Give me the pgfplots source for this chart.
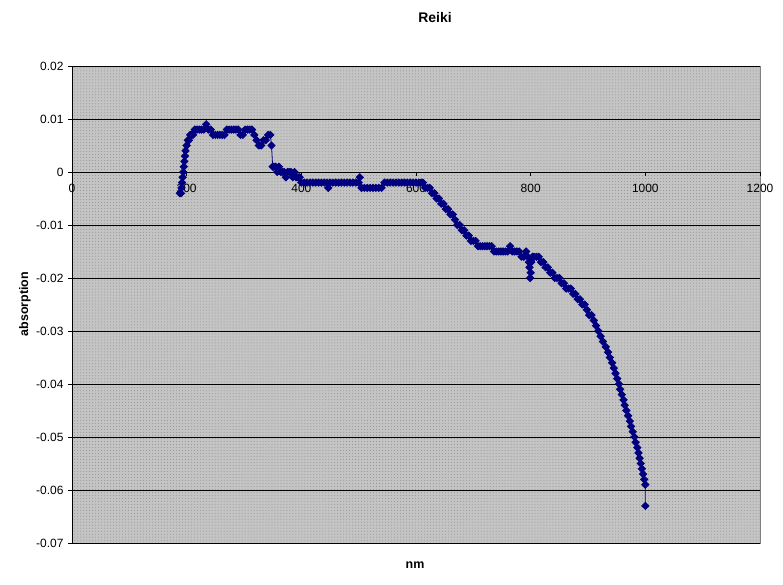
\documentclass[border=0pt]{standalone}
\usepackage{fontspec}
\setmainfont{Liberation Sans}
\usepackage{pgfplots}
\pgfplotsset{compat=1.18}
\usetikzlibrary{patterns}

\definecolor{plotbg}{RGB}{196,196,196}
\definecolor{plotdot}{RGB}{145,145,145}
\definecolor{frame}{RGB}{128,128,128}
\definecolor{series}{RGB}{0,0,128}

\begin{document}
\begin{tikzpicture}[x=1bp,y=1bp]
  % full picture frame 783 x 585
  \path (0,0) rectangle (783,585);
  \begin{axis}[
      at={(72bp,42bp)}, anchor=south west,
      scale only axis,
      width=688bp, height=477bp,
      xmin=0, xmax=1200, ymin=-0.07, ymax=0.02,
      axis x line=middle, axis y line=left,
      hide obscured x ticks=false, hide obscured y ticks=false,
      axis line style={-, black},
      axis background/.style={preaction={fill=plotbg}, pattern=dots, pattern color=plotdot, draw=frame},
      ymajorgrids=true,
      grid style={black, line width=0.8bp},
      tick align=outside,
      major tick length=4bp,
      tick style={black, line width=0.8bp},
      xtick={0,200,400,600,800,1000,1200},
      xticklabels={0,200,400,600,800,1000,1200},
      ytick={-0.07,-0.06,-0.05,-0.04,-0.03,-0.02,-0.01,0,0.01,0.02},
      yticklabels={-0.07,-0.06,-0.05,-0.04,-0.03,-0.02,-0.01,0,0.01,0.02},
      scaled y ticks=false,
      ticklabel style={font=\fontsize{12}{14}\selectfont},
      xticklabel style={anchor=north, yshift=-5bp},
      yticklabel style={anchor=east, xshift=-1bp},
      clip=false,
    ]
    \addplot[color=series, line width=0.8bp, mark=diamond*, mark size=3.6bp,
             mark options={fill=series, draw=series, xscale=1.35}] coordinates {
      (188,-0.004) (190,-0.004) (191,-0.003) (192,-0.002) (193,-0.001) (194,0)
      (195,0.001) (196,0.002) (197,0.003) (198,0.004) (200,0.005) (202,0.006)
      (204,0.006) (206,0.007) (208,0.007) (211,0.007) (214,0.008) (218,0.008)
      (222,0.008) (226,0.008) (230,0.008) (234,0.009) (238,0.008) (242,0.008)
      (246,0.007) (250,0.007) (254,0.007) (258,0.007) (262,0.007) (266,0.007)
      (270,0.008) (274,0.008) (278,0.008) (282,0.008) (286,0.008) (290,0.008)
      (294,0.007) (298,0.007) (302,0.008) (306,0.008) (310,0.008) (314,0.008)
      (318,0.007) (322,0.006) (326,0.005) (330,0.005) (334,0.006) (338,0.006)
      (342,0.007) (346,0.007) (348,0.005) (350,0.001)
      (352,0.001) (355,0.001) (358,0) (361,0.001) (364,0) (367,0) (370,0)
      (373,-0.001) (376,0) (379,0) (382,0) (385,-0.001) (388,0) (391,-0.001)
      (394,-0.001) (397,-0.001)
      (400,-0.002) (405,-0.002) (410,-0.002) (415,-0.002) (420,-0.002)
      (425,-0.002) (430,-0.002) (435,-0.002) (440,-0.002) (445,-0.002)
      (447,-0.003) (450,-0.002) (455,-0.002) (460,-0.002) (465,-0.002)
      (470,-0.002) (475,-0.002) (480,-0.002) (485,-0.002) (490,-0.002)
      (495,-0.002) (500,-0.002) (502,-0.001) (505,-0.003) (510,-0.003)
      (515,-0.003) (520,-0.003) (525,-0.003) (530,-0.003) (535,-0.003)
      (540,-0.003) (545,-0.002) (550,-0.002) (555,-0.002) (560,-0.002)
      (565,-0.002) (570,-0.002) (575,-0.002) (580,-0.002) (585,-0.002)
      (590,-0.002) (595,-0.002) (600,-0.002) (605,-0.002) (609,-0.002)
      (612,-0.002) (616,-0.003) (620,-0.003) (624,-0.003) (628,-0.004)
      (632,-0.004) (636,-0.005) (640,-0.005) (644,-0.006) (648,-0.006)
      (652,-0.007) (656,-0.007) (660,-0.008) (664,-0.008) (668,-0.009)
      (672,-0.010) (676,-0.010) (680,-0.011) (684,-0.011) (688,-0.012)
      (692,-0.012) (696,-0.013) (700,-0.013) (704,-0.013) (708,-0.014)
      (712,-0.014) (716,-0.014) (720,-0.014) (724,-0.014) (728,-0.014)
      (732,-0.014) (736,-0.015) (740,-0.015) (744,-0.015) (748,-0.015)
      (752,-0.015) (756,-0.015) (760,-0.015) (764,-0.014) (768,-0.015)
      (772,-0.015) (776,-0.015) (780,-0.015) (784,-0.016) (788,-0.016)
      (792,-0.015) (795,-0.016) (797,-0.017) (798,-0.018) (799,-0.020)
      (800,-0.019) (801,-0.017) (803,-0.016) (806,-0.016) (810,-0.016)
      (814,-0.016) (818,-0.017) (822,-0.017) (826,-0.018) (830,-0.018)
      (834,-0.019) (838,-0.019) (842,-0.020) (846,-0.020) (850,-0.020)
      (854,-0.021) (858,-0.021) (862,-0.022) (866,-0.022) (870,-0.022)
      (874,-0.023) (878,-0.023) (882,-0.024) (886,-0.024) (890,-0.025)
      (894,-0.025) (898,-0.026) (902,-0.027) (906,-0.027) (910,-0.028)
      (914,-0.029) (918,-0.030) (922,-0.031) (926,-0.032) (931,-0.033)
      (935,-0.034) (938,-0.035) (942,-0.036) (945,-0.037) (948,-0.038)
      (951,-0.039) (954,-0.040) (956,-0.041) (959,-0.042) (962,-0.043)
      (964,-0.044) (967,-0.045) (970,-0.046) (973,-0.047) (975,-0.048)
      (978,-0.049) (981,-0.050) (983,-0.051) (986,-0.052) (988,-0.053)
      (990,-0.054) (992,-0.055) (994,-0.056) (996,-0.057) (998,-0.058)
      (1000,-0.059) (1000,-0.063)
    };
  \end{axis}
  \node[font=\bfseries\fontsize{14}{16}\selectfont] at (435,567) {Reiki};
  \node[font=\bfseries\fontsize{12.5}{14}\selectfont] at (415,20) {nm};
  \node[font=\bfseries\fontsize{12.5}{14}\selectfont, rotate=90] at (25,281) {absorption};
\end{tikzpicture}
\end{document}
